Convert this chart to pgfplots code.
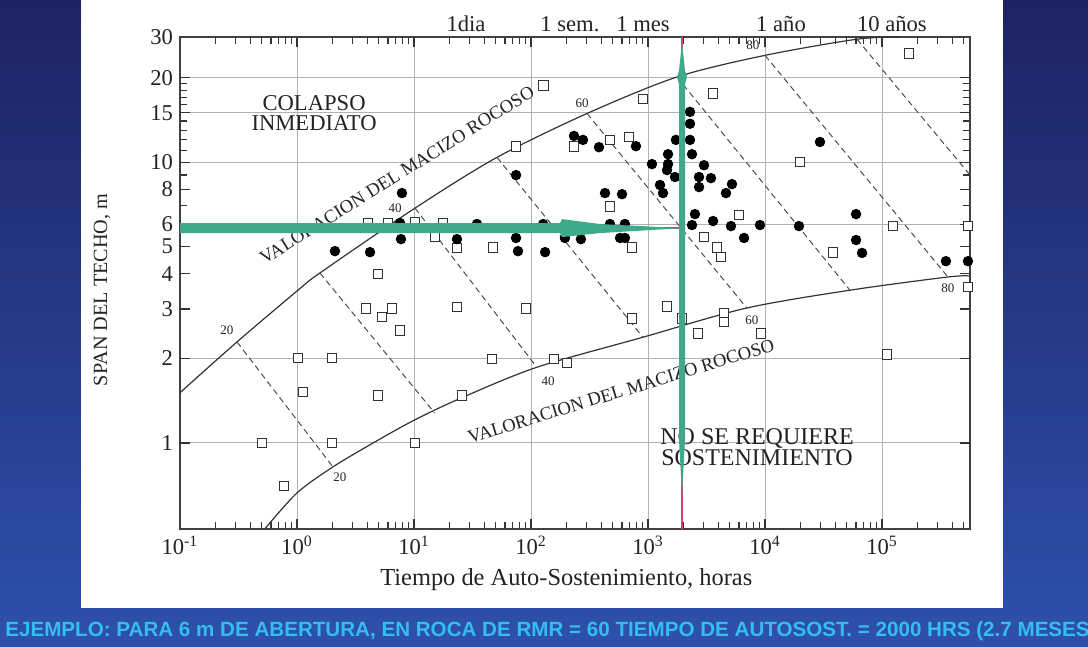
\documentclass[border=0pt]{standalone}
\usepackage{pgfplots}
\usepackage{pgfplotstable}
\pgfplotsset{compat=1.18}
\usepackage{fontspec}
\setmainfont{Liberation Serif}
\newfontfamily\bottomfont{Liberation Sans}
\definecolor{bgtop}{RGB}{30,34,98}
\definecolor{bgbot}{RGB}{46,80,172}
\definecolor{agreen}{RGB}{62,170,138}
\definecolor{apink}{RGB}{222,60,115}
\definecolor{cyantext}{RGB}{50,190,240}
\definecolor{ink}{RGB}{35,35,35}

\pgfplotstableread{
t s
7.89 7.76
2.11 4.82
4.21 4.78
7.74 5.32
7.59 6.07
23.3 5.32
34.5 6.02
74.5 5.37
77.4 4.82
74.5 8.99
132 4.78
127 6.02
195 5.37
267 5.32
233 12.4
278 12.0
381 11.3
789 11.4
429 7.76
600 7.69
473 6.02
635 6.02
577 5.37
635 5.37
1081 9.84
1267 8.29
1344 7.76
1483 10.67
1483 9.84
1453 9.37
1700 8.85
1733 12.0
2285 15.1
2285 13.7
2285 12.0
2377 10.67
3010 9.75
2730 8.85
3450 8.77
2730 8.15
5220 8.35
4640 7.76
2520 6.53
2377 5.97
3600 6.17
5120 5.92
6620 5.37
9060 5.97
19500 5.92
29500 11.8
60000 6.53
60000 5.28
67500 4.75
352000 4.44
543000 4.44
}\dots

\pgfplotstableread{
t s
4.05 6.07
6.0 6.07
10.2 6.12
17.7 6.07
15.1 5.45
23.3 4.94
47.3 4.98
4.92 4.0
3.89 3.02
5.32 2.81
6.49 3.02
7.59 2.52
1.02 2.01
1.99 2.01
1.12 1.52
4.92 1.48
0.502 1.0
1.99 1.0
10.2 1.0
0.775 0.703
23.3 3.05
90.6 3.02
46.5 1.99
157 1.99
203 1.93
25.7 1.48
127 18.8
906 16.8
3600 17.6
74.5 11.4
233 11.4
473 12.0
689 12.3
473 6.97
730 4.98
730 2.78
1453 3.07
1954 2.78
2670 2.46
4470 2.90
4470 2.70
9250 2.46
3010 5.41
3890 4.98
4210 4.59
6000 6.48
19900 10.0
170000 24.4
124000 5.92
543000 5.92
38100 4.78
543000 3.59
110000 2.07
}\squares

\begin{document}
\begin{tikzpicture}[x=0.5pt,y=0.5pt]
\shade[top color=bgtop, bottom color=bgbot] (0,0) rectangle (1088,647);
\fill[white] (81,39) rectangle (1003,647);
\begin{scope}
\clip (0,0) rectangle (1088,647);
\node[anchor=west, text=cyantext, inner sep=0pt, font={\bottomfont\bfseries\fontsize{10.3}{12}\selectfont}] at (5,16) {EJEMPLO: PARA 6 m DE ABERTURA, EN ROCA DE RMR = 60 TIEMPO DE AUTOSOST. = 2000 HRS (2.7 MESES};
\end{scope}
\begin{axis}[
  at={(90pt,59pt)}, anchor=south west,
  scale only axis, width=395pt, height=246pt,
  xmode=log, ymode=log,
  xmin=0.1, xmax=5.65e5, ymin=0.494, ymax=27.9,
  xtick={0.1,1,10,100,1000,10000,100000},
  xticklabels={10\textsuperscript{-1},10\textsuperscript{0},10\textsuperscript{1},10\textsuperscript{2},10\textsuperscript{3},10\textsuperscript{4},10\textsuperscript{5}},
  xminorticks=true, yminorticks=true,
  minor xtick={0.2,0.3,0.4,0.5,0.6,0.7,0.8,0.9,2,3,4,5,6,7,8,9,20,30,40,50,60,70,80,90,200,300,400,500,600,700,800,900,2000,3000,4000,5000,6000,7000,8000,9000,20000,30000,40000,50000,60000,70000,80000,90000,200000,300000,400000,500000},
  ytick={1,2,3,4,5,6,8,10,15,20,27.9},
  yticklabels={1,2,3,4,5,6,8,10,15,20,30},
  minor ytick={7,9,11,12,13,14,16,17,18,19},
  xmajorgrids,
  extra y ticks={1,2,6,10,15,20}, extra y tick labels={}, extra y tick style={grid=major},
  major grid style={gray!60, line width=0.5pt},
  tick align=inside, xtick pos=both, ytick pos=both,
  major tick length=5pt, minor tick length=3.5pt,
  every tick/.style={black!80, line width=0.6pt},
  axis line style={black!75, line width=0.7pt},
  tick label style={font=\fontsize{11.3}{12}\selectfont, text=ink},
  xlabel={Tiempo de Auto-Sostenimiento, horas},
  ylabel={SPAN DEL TECHO, m},
  every axis x label/.style={at={(rel axis cs:0.489,0)}, anchor=center, yshift=-25.5pt, font=\fontsize{12.2}{14}\selectfont, text=ink},
  every axis y label/.style={at={(rel axis cs:0,0.486)}, xshift=-39pt, anchor=center, rotate=90, font=\fontsize{10.1}{12}\selectfont, text=ink},
  clip mode=individual,
]
% boundary curves
\addplot[black!80, line width=0.6pt, smooth, tension=0.5] coordinates {(0.1,1.51) (0.307,2.29) (1.02,3.50) (1.57,4.03) (10.2,6.86) (51.2,10.4) (301,14.9) (1770,20.1) (10000,24.0) (61100,27.4) (142000,27.9)};
\addplot[black!80, line width=0.6pt, smooth, tension=0.5] coordinates {(0.53,0.494) (1.0,0.664) (2.03,0.822) (4.47,1.0) (10.2,1.21) (25.7,1.45) (112,1.86) (906,2.38) (6890,3.02) (53200,3.50) (366000,3.90) (565000,3.93)};
% RMR dashed lines
\addplot[black!70, line width=0.5pt, dash pattern=on 3pt off 2pt] coordinates {(0.307,2.29) (2.03,0.822)};
\addplot[black!70, line width=0.5pt, dash pattern=on 3pt off 2pt] coordinates {(1.57,4.03) (15,1.28)};
\addplot[black!70, line width=0.5pt, dash pattern=on 3pt off 2pt] coordinates {(10.2,6.86) (112,1.86)};
\addplot[black!70, line width=0.5pt, dash pattern=on 3pt off 2pt] coordinates {(51.2,10.4) (906,2.38)};
\addplot[black!70, line width=0.5pt, dash pattern=on 3pt off 2pt] coordinates {(301,14.9) (7010,3.02)};
\addplot[black!70, line width=0.5pt, dash pattern=on 3pt off 2pt] coordinates {(1770,20.1) (53200,3.50)};
\addplot[black!70, line width=0.5pt, dash pattern=on 3pt off 2pt] coordinates {(10000,24.0) (366000,3.90)};
\addplot[black!70, line width=0.5pt, dash pattern=on 3pt off 2pt] coordinates {(61100,27.4) (565000,9.0)};
% data
\addplot[only marks, mark=square*, mark size=2.4pt, mark options={fill=white, draw=black!80, line width=0.45pt}] table[x=t,y=s] {\squares};
\addplot[only marks, mark=*, mark size=2.4pt, mark options={fill=black, draw=black}] table[x=t,y=s] {\dots};
% labels
\node[font=\fontsize{6.5}{7}\selectfont, text=ink] at (axis cs:0.252,2.52) {20};
\node[font=\fontsize{6.5}{7}\selectfont, text=ink] at (axis cs:2.33,0.757) {20};
\node[font=\fontsize{6.5}{7}\selectfont, text=ink] at (axis cs:6.89,6.86) {40};
\node[font=\fontsize{6.5}{7}\selectfont, text=ink] at (axis cs:140,1.66) {40};
\node[font=\fontsize{6.5}{7}\selectfont, text=ink] at (axis cs:273,16.2) {60};
\node[font=\fontsize{6.5}{7}\selectfont, text=ink] at (axis cs:7740,2.74) {60};
\node[font=\fontsize{6.5}{7}\selectfont, text=ink] at (axis cs:7890,26.1) {80};
\node[font=\fontsize{6.5}{7}\selectfont, text=ink] at (axis cs:366000,3.56) {80};
\node[rotate=32, inner sep=0pt, font=\fontsize{9.3}{10}\selectfont, text=ink] at (axis cs:7.16,8.99) {VALORACION DEL MACIZO ROCOSO};
\node[rotate=17, inner sep=0pt, font=\fontsize{9.3}{10}\selectfont, text=ink] at (axis cs:588,1.53) {VALORACION DEL MACIZO ROCOSO};
\node[align=center, font=\fontsize{11.3}{10}\selectfont, text=ink] at (axis cs:1.40,14.9) {COLAPSO\\INMEDIATO};
\node[align=center, font=\fontsize{12}{9.7}\selectfont, text=ink] at (axis cs:8550,0.967) {NO SE REQUIERE\\SOSTENIMIENTO};
\node[anchor=base, font=\fontsize{11.3}{12}\selectfont, text=ink] at (axis cs:27.8,29.3) {1dia};
\node[anchor=base, font=\fontsize{11.3}{12}\selectfont, text=ink] at (axis cs:215,29.3) {1 sem.};
\node[anchor=base, font=\fontsize{11.3}{12}\selectfont, text=ink] at (axis cs:906,29.3) {1 mes};
\node[anchor=base, font=\fontsize{11.3}{12}\selectfont, text=ink] at (axis cs:13700,29.3) {1 año};
\node[anchor=base, font=\fontsize{11.3}{12}\selectfont, text=ink] at (axis cs:121600,29.3) {10 años};
% example arrows
\addplot[apink, line width=0.75pt] coordinates {(1954,0.494) (1954,27.9)};
\addplot[apink, line width=0.75pt] coordinates {(300,5.82) (1954,5.82)};
\addplot[fill=agreen, draw=none] coordinates {(0.1,6.07) (177,6.07) (184,6.27) (389,6.02) (1954,5.82) (389,5.59) (184,5.41) (177,5.59) (0.1,5.59) (0.1,6.07)};
\addplot[fill=agreen, draw=none] coordinates {(1954,26.7) (2071,21.2) (2154,20.1) (2071,18.9) (2071,1.025) (1954,0.653) (1841,1.025) (1841,18.9) (1771,20.1) (1841,21.2) (1954,26.7)};
\end{axis}
\pgfresetboundingbox
\path[use as bounding box] (0,0) rectangle (1088,647);
\end{tikzpicture}
\end{document}
